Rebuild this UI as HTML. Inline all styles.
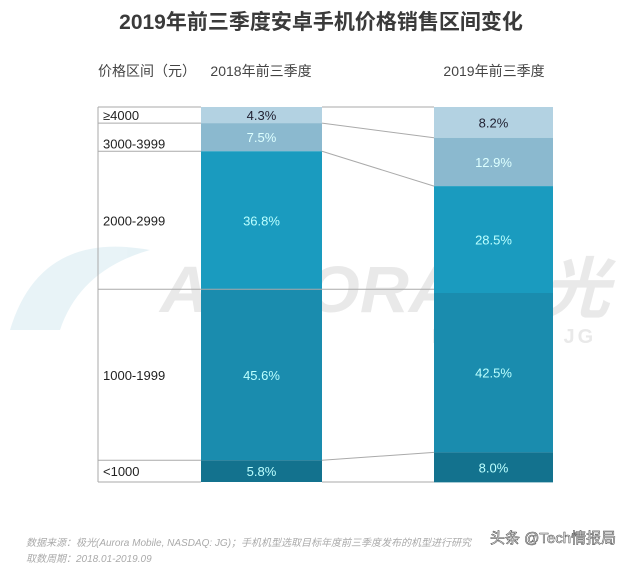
<!DOCTYPE html>
<html><head><meta charset="utf-8">
<style>
html,body{margin:0;padding:0;background:#fff;}
body{width:640px;height:570px;overflow:hidden;font-family:"Liberation Sans","Noto Sans CJK SC",sans-serif;}
</style></head>
<body>
<svg id="chart" width="640" height="570" xmlns="http://www.w3.org/2000/svg" font-family="Liberation Sans, Noto Sans CJK SC, sans-serif">
<text x="321" y="29" text-anchor="middle" font-size="21" font-weight="bold" fill="#3a3a3a">2019年前三季度安卓手机价格销售区间变化</text>
<text x="98" y="76" font-size="14" fill="#444">价格区间（元）</text>
<text x="261" y="76" text-anchor="middle" font-size="14" fill="#444">2018年前三季度</text>
<text x="494" y="76" text-anchor="middle" font-size="14" fill="#444">2019年前三季度</text>
<g id="wm" opacity="0.1">
<path d="M10 330 Q40 230 150 250 Q80 270 60 330 Z" fill="#1a8db0"/>
<text x="160" y="312" font-size="66" font-weight="bold" font-style="italic" fill="#333" textLength="450" lengthAdjust="spacingAndGlyphs">AURORA 极光</text>
<text x="432" y="343" font-size="20" font-weight="bold" fill="#333" letter-spacing="3">NASDAQ : JG</text>
</g>
<g id="plot"></g>
<text x="26" y="546" font-size="10" font-style="italic" fill="#aaa">数据来源：极光(Aurora Mobile, NASDAQ: JG)；手机机型选取目标年度前三季度发布的机型进行研究</text>
<text x="26" y="562" font-size="10" font-style="italic" fill="#aaa">取数周期：2018.01-2019.09</text>
<text x="490" y="543" font-size="15" fill="#fff" stroke="#555" stroke-width="0.6">头条 @Tech情报局</text>
</svg>
<script>
const categories = ["≥4000","3000-3999","2000-2999","1000-1999","<1000"];
const series2018 = [4.3,7.5,36.8,45.6,5.8];
const series2019 = [8.2,12.9,28.5,42.5,8.0];
const colors = ["#b3d2e2","#8bb9cf","#1a9bbf","#1a8cae","#13728e"];
const textColors = ["#223","#dff","#bff","#bff","#bff"];
const NS="http://www.w3.org/2000/svg";
const plot=document.getElementById('plot');
const top0=107,bottom0=482,H=bottom0-top0;
function y(p){return top0+p/100*H;}
const bars=[{x:201,w:121,d:series2018,n:'2018'},{x:434,w:119,d:series2019,n:'2019'}];
function mk(t,a){const e=document.createElementNS(NS,t);for(const k in a)e.setAttribute(k,a[k]);plot.appendChild(e);return e;}
const b=bars.map(br=>{let c=0,arr=[0];br.d.forEach(v=>{c+=v;arr.push(c);});return arr;});
bars.forEach((br,bi)=>{
  br.d.forEach((v,i)=>{
    const y0=y(b[bi][i]),y1=y(b[bi][i+1]);
    const r=mk('rect',{x:br.x,y:y0,width:br.w,height:y1-y0,fill:colors[i]});
    
    
    const t=mk('text',{x:br.x+br.w/2,y:(y0+y1)/2+5,'text-anchor':'middle','font-size':13,fill:textColors[i]});
    
    
    t.textContent=v.toFixed(1)+'%';
  });
});
const g='#aaa';
mk('line',{x1:98,y1:top0,x2:98,y2:bottom0,stroke:g});
b[0].forEach((p,i)=>{
  const yy=y(p);
  const x2=(i===3)?434:201;
  mk('line',{x1:98,y1:yy,x2:x2,y2:yy,stroke:g});
});
mk('line',{x1:322,y1:top0,x2:434,y2:top0,stroke:g});
mk('line',{x1:322,y1:bottom0,x2:434,y2:bottom0,stroke:g});
for(let i=1;i<5;i++){
  if(i===3)continue;
  mk('line',{x1:322,y1:y(b[0][i]),x2:434,y2:y(b[1][i]),stroke:g});
}
categories.forEach((c,i)=>{
  const y0=y(b[0][i]),y1=y(b[0][i+1]);
  const t=mk('text',{x:103,y:(i<2?y1-3:(y0+y1)/2+5),'font-size':13,fill:'#222'});
  
  
  t.textContent=c;
});
</script>
</body></html>
